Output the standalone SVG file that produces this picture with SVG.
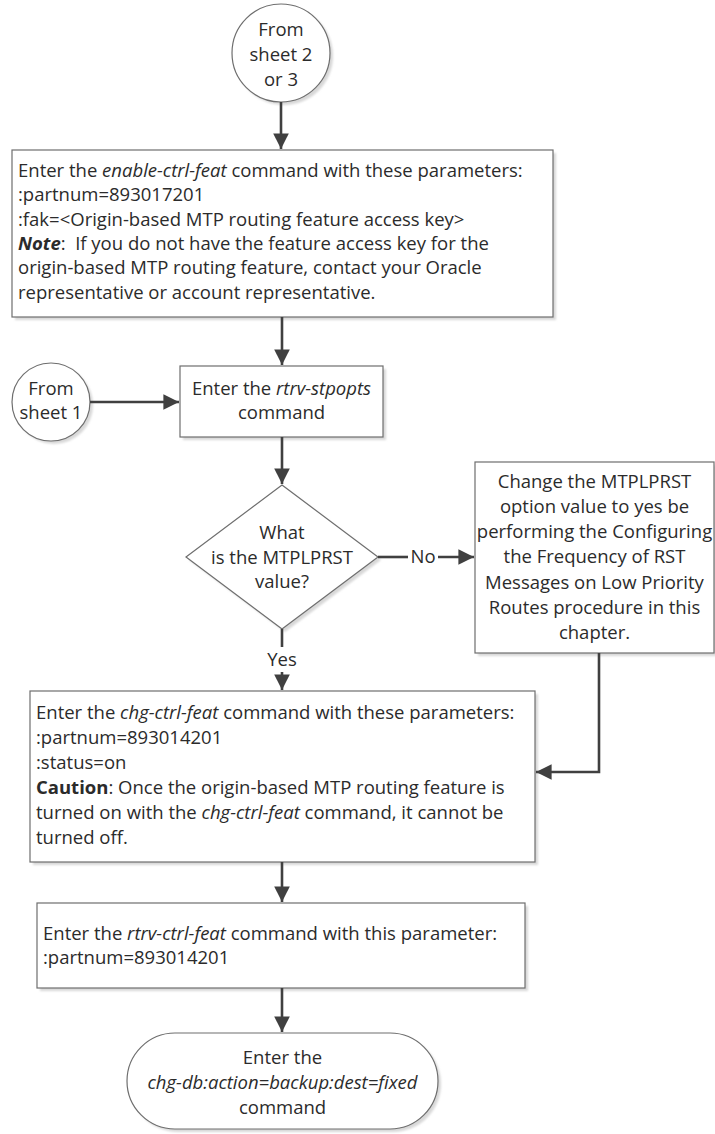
<svg xmlns="http://www.w3.org/2000/svg" width="715" height="1134" viewBox="0 0 715 1134">
<style>
text{font-family:"Open Sans","Noto Sans","DejaVu Sans",sans-serif;font-size:18.5px;fill:#2b2b2b}
.c{text-anchor:middle}
.i{font-style:italic}
.b{font-weight:bold}
.shape{fill:#ffffff;stroke:#6e6e6e;stroke-width:1.2}
.shadow{fill:#d8d8d8;stroke:none;filter:url(#blur)}
.conn{fill:none;stroke:#404040;stroke-width:2.6}
</style>
<defs>
<filter id="blur" x="-10%" y="-10%" width="120%" height="120%"><feGaussianBlur stdDeviation="1.2"/></filter>
<marker id="arr" viewBox="0 0 10 10" refX="10" refY="5" markerWidth="6" markerHeight="6" markerUnits="strokeWidth" orient="auto"><path d="M0,0 L10,5 L0,10 z" fill="#404040"/></marker>
</defs>

<g id="start1">
<circle class="shadow" cx="284" cy="56" r="49"/>
<circle class="shape" cx="281" cy="53" r="49"/>
<text class="c" x="281" y="36">From</text>
<text class="c" x="281" y="61">sheet 2</text>
<text class="c" x="281" y="86">or 3</text>
</g>

<g id="box1">
<rect class="shadow" x="15" y="153" width="541" height="167"/>
<rect class="shape" x="12" y="150" width="541" height="167"/>
<text xml:space="preserve" x="18" y="177">Enter the <tspan class="i">enable-ctrl-feat</tspan> command with these parameters:</text>
<text x="18" y="201">:partnum=893017201</text>
<text x="18" y="226">:fak=&lt;Origin-based MTP routing feature access key&gt;</text>
<text xml:space="preserve" x="18" y="250"><tspan class="b i">Note</tspan>:  If you do not have the feature access key for the</text>
<text x="18" y="274">origin-based MTP routing feature, contact your Oracle</text>
<text x="18" y="299">representative or account representative.</text>
</g>

<g id="start2">
<circle class="shadow" cx="54" cy="405" r="39"/>
<circle class="shape" cx="51" cy="402" r="39"/>
<text class="c" x="51" y="395">From</text>
<text class="c" x="51" y="419">sheet 1</text>
</g>

<g id="box2">
<rect class="shadow" x="183" y="369" width="203" height="71"/>
<rect class="shape" x="180" y="366" width="203" height="71"/>
<text xml:space="preserve" class="c" x="281.5" y="395">Enter the <tspan class="i">rtrv-stpopts</tspan></text>
<text class="c" x="281.5" y="419">command</text>
</g>

<g id="decision">
<polygon class="shadow" points="285,488 381,560 285,632 189,560"/>
<polygon class="shape" points="282,485 378,557 282,629 186,557"/>
<text class="c" x="282" y="539">What</text>
<text class="c" x="282" y="564">is the MTPLPRST</text>
<text class="c" x="282" y="588">value?</text>
</g>

<g id="box3">
<rect class="shadow" x="478" y="465" width="239" height="191"/>
<rect class="shape" x="475" y="462" width="239" height="191"/>
<text class="c" x="594.5" y="488">Change the MTPLPRST</text>
<text class="c" x="594.5" y="513">option value to yes be</text>
<text class="c" x="594.5" y="538">performing the Configuring</text>
<text class="c" x="594.5" y="563">the Frequency of RST</text>
<text class="c" x="594.5" y="589">Messages on Low Priority</text>
<text class="c" x="594.5" y="614">Routes procedure in this</text>
<text class="c" x="594.5" y="639">chapter.</text>
</g>

<g id="box4">
<rect class="shadow" x="33" y="694" width="505" height="171"/>
<rect class="shape" x="30" y="691" width="505" height="171"/>
<text xml:space="preserve" x="36" y="719">Enter the <tspan class="i">chg-ctrl-feat</tspan> command with these parameters:</text>
<text x="36" y="744">:partnum=893014201</text>
<text x="36" y="769">:status=on</text>
<text xml:space="preserve" x="36" y="794"><tspan class="b">Caution</tspan>: Once the origin-based MTP routing feature is</text>
<text xml:space="preserve" x="36" y="819">turned on with the <tspan class="i">chg-ctrl-feat</tspan> command, it cannot be</text>
<text x="36" y="844">turned off.</text>
</g>

<g id="box5">
<rect class="shadow" x="40" y="906" width="488" height="85"/>
<rect class="shape" x="37" y="903" width="488" height="85"/>
<text xml:space="preserve" x="43" y="940">Enter the <tspan class="i">rtrv-ctrl-feat</tspan> command with this parameter:</text>
<text x="43" y="964">:partnum=893014201</text>
</g>

<g id="end">
<rect class="shadow" x="130" y="1036" width="311" height="96" rx="48" ry="48"/>
<rect class="shape" x="127" y="1033" width="311" height="96" rx="48" ry="48"/>
<text class="c" x="282.5" y="1064">Enter the</text>
<text class="c i" x="282.5" y="1089">chg-db:action=backup:dest=fixed</text>
<text class="c" x="282.5" y="1114">command</text>
</g>

<g id="connectors">
<line class="conn" x1="281" y1="102" x2="281" y2="149" marker-end="url(#arr)"/>
<line class="conn" x1="282" y1="317" x2="282" y2="365" marker-end="url(#arr)"/>
<line class="conn" x1="90" y1="402" x2="179" y2="402" marker-end="url(#arr)"/>
<line class="conn" x1="282" y1="437" x2="282" y2="484" marker-end="url(#arr)"/>
<line class="conn" x1="378" y1="557" x2="408" y2="557"/>
<text class="c" x="423" y="563">No</text>
<line class="conn" x1="438" y1="557" x2="474" y2="557" marker-end="url(#arr)"/>
<line class="conn" x1="282" y1="629" x2="282" y2="647"/>
<text class="c" x="282" y="666">Yes</text>
<line class="conn" x1="282" y1="672" x2="282" y2="690" marker-end="url(#arr)"/>
<polyline class="conn" points="599,653 599,772 536,772" marker-end="url(#arr)"/>
<line class="conn" x1="282" y1="862" x2="282" y2="902" marker-end="url(#arr)"/>
<line class="conn" x1="282" y1="988" x2="282" y2="1032" marker-end="url(#arr)"/>
</g>
</svg>
